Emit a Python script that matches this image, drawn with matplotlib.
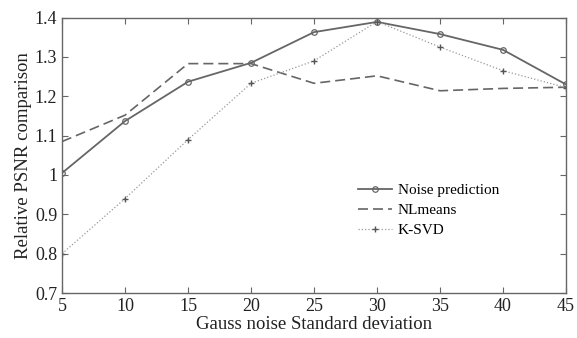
import matplotlib.pyplot as plt

plt.rcParams['font.family'] = ['Liberation Serif', 'DejaVu Serif']

sigma = [5, 10, 15, 20, 25, 30, 35, 40, 45]
noise_pred = [1.005, 1.137, 1.237, 1.285, 1.363, 1.389, 1.358, 1.318, 1.230]
nlmeans = [1.085, 1.152, 1.283, 1.283, 1.233, 1.252, 1.214, 1.220, 1.223]
ksvd = [0.800, 0.940, 1.090, 1.233, 1.290, 1.390, 1.325, 1.265, 1.222]


def main():
    fig = plt.figure(figsize=(5.77, 3.38), dpi=100)
    ax = fig.add_axes([0.1075, 0.133, 0.8735, 0.815])

    ax.plot(sigma, noise_pred, color='#666666', lw=1.3, marker='o', ms=4,
            mfc='none', mew=0.9, label='Noise prediction')
    ax.plot(sigma, nlmeans, color='#666666', lw=1.2, ls=(0, (6, 3)),
            label='NLmeans')
    ax.plot(sigma, ksvd, color='#999999', lw=0.9, ls=':', marker='+', ms=5,
            mew=1.0, mec='#555555', label='K-SVD')

    ax.set_xlim(5, 45)
    ax.set_ylim(0.7, 1.4)
    ax.set_xticks(sigma)
    ax.set_yticks([0.7, 0.8, 0.9, 1.0, 1.1, 1.2, 1.3, 1.4])
    ax.set_yticklabels(['0.7', '0.8', '0.9', '1', '1.1', '1.2', '1.3', '1.4'])
    ax.tick_params(direction='in', labelsize=13, length=4, color='#666666',
                   labelcolor='#222222', top=True, right=True)
    for s in ax.spines.values():
        s.set_color('#666666')
        s.set_linewidth(1.0)

    ax.set_xlabel('Gauss noise Standard deviation', fontsize=13.5, labelpad=1,
                  color='#222222')
    ax.set_ylabel('Relative PSNR comparison', fontsize=13.5, labelpad=2,
                  color='#222222')

    ax.legend(loc='center left', bbox_to_anchor=(0.56, 0.3), frameon=False,
              fontsize=11, handlelength=2.2, labelspacing=0.4,
              handletextpad=0.4)

    fig.savefig('out.png', dpi=100)


if __name__ == "__main__":
    main()
